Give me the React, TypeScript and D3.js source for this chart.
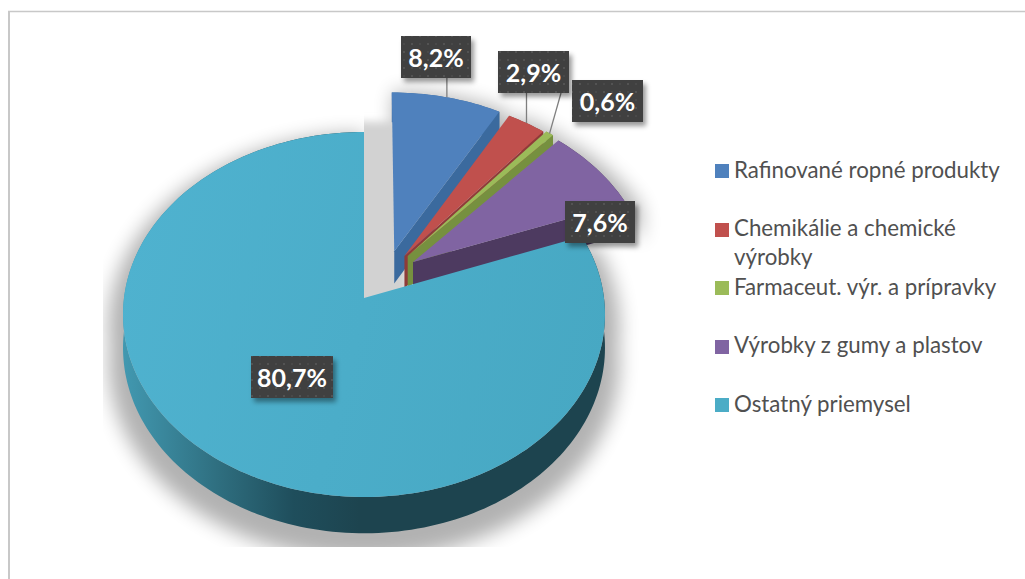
import React from 'react';
import * as d3 from 'd3';

const width = 1025, height = 579;

const categories = ['Rafinované ropné produkty', 'Chemikálie a chemické výrobky', 'Farmaceut. výr. a prípravky', 'Výrobky z gumy a plastov', 'Ostatný priemysel'];
const values = [8.2, 2.9, 0.6, 7.6, 80.7];
const valueLabels = ['8,2%', '2,9%', '0,6%', '7,6%', '80,7%'];
const colors = ['#4f81bd', '#c0504d', '#9bbb59', '#8064a2', '#4bacc6'];
const wallColors = ['#3b6a9e', '#8f3b39', '#76903f', '#4d3a60', '#1d444f'];

// how far each slice is pulled out of the pie, on the pie plane (radius = 1)
const explodeU = [0.129, 0.172, 0.186, 0.208, 0];
const explodeV = [0.265, 0.237, 0.237, 0.2025, 0];

// label boxes: left, top
const labelX = [401, 498, 572, 565, 251];
const labelY = [36, 51, 80, 201, 356];
const labelW = [70, 71, 71, 70, 82];
const labelH = 42;

// projection of the pie plane
const apexX = 364, apexY = 298;
const radX = 240, radY = 181;
const persp = 0.0904;
const depth = 33;

const project = (u: number, v: number, down = 0): [number, number] => {
  const w = 1 + persp * v;
  return [apexX + radX * u / w, apexY + (down - radY * v) / w];
};

const color = d3.scaleOrdinal<string, string>().domain(categories).range(colors);
const wallColor = d3.scaleOrdinal<string, string>().domain(categories).range(wallColors);

const pie = d3.pie<number>().sort(null).startAngle(0).endAngle(Math.PI * 2);
const arcs = pie(values);
const line = d3.line();

const rimPoints = (i: number, down = 0) => {
  const a = arcs[i];
  const n = Math.max(4, Math.ceil((a.endAngle - a.startAngle) * 40));
  return d3.range(n + 1).map(k => {
    const t = a.startAngle + (a.endAngle - a.startAngle) * k / n;
    return project(explodeU[i] + Math.sin(t), explodeV[i] + Math.cos(t), down);
  });
};

const facePath = (i: number) => {
  const apex = project(explodeU[i], explodeV[i]);
  return line([apex, ...rimPoints(i)]) + 'Z';
};
const bandPath = (i: number) => line([...rimPoints(i), ...rimPoints(i, depth).reverse()]) + 'Z';
const wallPath = (i: number) => {
  const rim = rimPoints(i), low = rimPoints(i, depth);
  return line([
    project(explodeU[i], explodeV[i]),
    rim[rim.length - 1],
    low[low.length - 1],
    project(explodeU[i], explodeV[i], depth),
  ]) + 'Z';
};
const rimMid = (i: number) => {
  const t = (arcs[i].startAngle + arcs[i].endAngle) / 2;
  return project(explodeU[i] + Math.sin(t), explodeV[i] + Math.cos(t));
};

// legend rows
const legendRows = [
  { i: 0, swatch: 164, lines: [{ t: 'Rafinované ropné produkty', y: 178 }] },
  { i: 1, swatch: 223, lines: [{ t: 'Chemikálie a chemické', y: 236 }, { t: 'výrobky', y: 265 }] },
  { i: 2, swatch: 281, lines: [{ t: 'Farmaceut. výr. a prípravky', y: 295 }] },
  { i: 3, swatch: 340, lines: [{ t: 'Výrobky z gumy a plastov', y: 353 }] },
  { i: 4, swatch: 398, lines: [{ t: 'Ostatný priemysel', y: 412 }] },
];

const font = 'Lato, Carlito, sans-serif';

export default function App() {
  const tealTop = project(0, 1);
  const blueLeft = project(explodeU[0], explodeV[0])[0];
  const notch = line([
    [apexX - 14, apexY + 14],
    [apexX - 14, tealTop[1] - 10],
    [blueLeft + 14, tealTop[1] - 10],
    [blueLeft + 14, apexY + 14],
  ]) + 'Z';

  return (
    <svg width={width} height={height} style={{ position: 'absolute', left: 0, top: 0, display: 'block', background: '#fff' }}>
      <defs>
        <filter id="blur" x="-20%" y="-20%" width="140%" height="140%">
          <feGaussianBlur stdDeviation="9" />
        </filter>
        <filter id="notchBlur" x="-50%" y="-20%" width="200%" height="140%">
          <feGaussianBlur stdDeviation="4" />
        </filter>
        <filter id="labelShadow" x="-20%" y="-20%" width="150%" height="150%">
          <feDropShadow dx="3" dy="4" stdDeviation="2.5" floodColor="#000" floodOpacity="0.4" />
        </filter>
        <clipPath id="shadowClip">
          <rect x={103} y={0} width={width} height={547} />
        </clipPath>
        <clipPath id="notchClip">
          <rect x={apexX} y={0} width={60} height={height} />
        </clipPath>
        <linearGradient id="tealSide" gradientUnits="userSpaceOnUse" x1={122} x2={360} y1={0} y2={0}>
          <stop offset="0" stopColor="#4299b1" />
          <stop offset="0.4" stopColor="#2f6f80" />
          <stop offset="0.72" stopColor="#1f4e5c" />
          <stop offset="1" stopColor="#1d444f" />
        </linearGradient>
        <linearGradient id="tealFace" gradientUnits="userSpaceOnUse" x1={122} x2={604} y1={250} y2={380}>
          <stop offset="0" stopColor="#4fb2cf" />
          <stop offset="1" stopColor="#47a8c3" />
        </linearGradient>
        <pattern id="dots" patternUnits="userSpaceOnUse" width={16} height={16}>
          <rect width={16} height={16} fill="#3f3f3f" />
          <circle cx={4} cy={4} r={1} fill="#5a5a5a" />
          <circle cx={12} cy={12} r={1} fill="#5a5a5a" />
          <circle cx={12} cy={4} r={1} fill="#4d4d4d" />
          <circle cx={4} cy={12} r={1} fill="#4d4d4d" />
        </pattern>
      </defs>

      {/* frame */}
      <line x1={9} x2={9} y1={11} y2={height} stroke="#c8c8c8" strokeWidth={2} />
      <line x1={8} x2={width} y1={11.5} y2={11.5} stroke="#c8c8c8" strokeWidth={1.5} />

      {/* soft shadow under the pie */}
      <g clipPath="url(#shadowClip)">
        <g filter="url(#blur)" opacity={0.3} transform={`translate(${apexX} 314) scale(1.06) translate(${-apexX} -302)`}>
          {arcs.map((_, i) => (
            <g key={i} fill="#000">
              <path d={facePath(i)} />
              <path d={bandPath(i)} />
            </g>
          ))}
        </g>
      </g>
      <g clipPath="url(#notchClip)">
        <path d={notch} fill="#d2d2d2" filter="url(#notchBlur)" />
      </g>

      {/* slices, back to front */}
      {arcs.map((_, i) => (
        <g key={categories[i]}>
          <path d={bandPath(i)} fill={i === 4 ? 'url(#tealSide)' : wallColor(categories[i])} />
          {i !== 4 && <path d={wallPath(i)} fill={wallColor(categories[i])} />}
          <path d={facePath(i)} fill={i === 4 ? 'url(#tealFace)' : color(categories[i])} />
        </g>
      ))}

      {/* leader lines */}
      {[0, 1, 2].map(i => {
        const [x, y] = rimMid(i);
        const endX = i === 2 ? labelX[1] + labelW[1] - 8 : x;
        return <line key={i} x1={x} y1={y} x2={endX} y2={labelY[i === 2 ? 1 : i] + labelH} stroke="#7f7f7f" strokeWidth={1.3} />;
      })}

      {/* data labels */}
      {valueLabels.map((t, i) => (
        <g key={t}>
          <rect x={labelX[i]} y={labelY[i]} width={labelW[i]} height={labelH} fill="url(#dots)" filter="url(#labelShadow)" />
          <text x={labelX[i] + labelW[i] / 2} y={labelY[i] + 31} textAnchor="middle" fill="#fff" fontFamily={font} fontWeight={700} fontSize={25}>{t}</text>
        </g>
      ))}

      {/* legend */}
      {legendRows.map(r => (
        <g key={r.i}>
          <rect x={715} y={r.swatch} width={14} height={14} fill={color(categories[r.i])} />
          {r.lines.map(l => (
            <text key={l.t} x={734} y={l.y} fill="#505050" fontFamily={font} fontSize={22.3}>{l.t}</text>
          ))}
        </g>
      ))}
    </svg>
  );
}
